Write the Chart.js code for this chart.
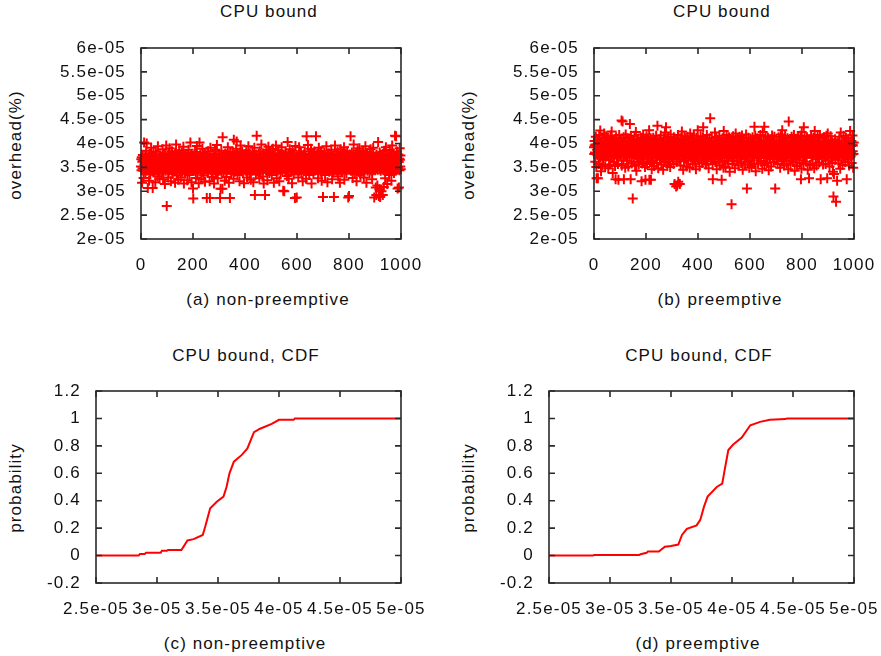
<!DOCTYPE html>
<html><head><meta charset="utf-8">
<script src="https://cdn.jsdelivr.net/npm/chart.js@4.4.1/dist/chart.umd.min.js"></script>
<style>
html,body{margin:0;padding:0;background:#fff;}
body{width:881px;height:656px;position:relative;overflow:hidden;font-family:"Liberation Sans",Arial,sans-serif;}
canvas{position:absolute;}
.t{position:absolute;font-size:17px;line-height:17px;letter-spacing:1.1px;color:#111;white-space:nowrap;transform:translate(-50%,-50%);}
.r{transform:translate(-50%,-50%) rotate(-90deg);}
</style>
</head><body>
<div class="t" style="left:269px;top:11px">CPU bound</div>
<div class="t" style="left:722px;top:11px">CPU bound</div>
<div class="t" style="left:268px;top:299px">(a) non-preemptive</div>
<div class="t" style="left:720px;top:299px">(b) preemptive</div>
<div class="t r" style="left:15px;top:145px">overhead(%)</div>
<div class="t r" style="left:468px;top:145px">overhead(%)</div>
<div class="t" style="left:246px;top:355px">CPU bound, CDF</div>
<div class="t" style="left:699px;top:355px">CPU bound, CDF</div>
<div class="t" style="left:245px;top:643px">(c) non-preemptive</div>
<div class="t" style="left:698px;top:643px">(d) preemptive</div>
<div class="t r" style="left:15px;top:488px">probability</div>
<div class="t r" style="left:468px;top:488px">probability</div>
<canvas id="ca" width="440" height="330" style="left:0;top:0"></canvas>
<canvas id="cb" width="441" height="330" style="left:440px;top:0"></canvas>
<canvas id="cc" width="440" height="326" style="left:0;top:330px"></canvas>
<canvas id="cd" width="441" height="326" style="left:440px;top:330px"></canvas>
<script>
// overhead values in units of 1e-07 (e.g. 362 = 3.62e-05), one per run 0..999
const overheadNonPreempt = [
352,367,344,371,318,362,348,376,365,343,328,369,402,356,345,363,374,339,347,366,385,358,400,346,364,
361,307,349,372,344,366,322,357,378,346,363,335,368,343,391,361,347,374,353,365,307,342,369,381,345,
364,341,372,355,347,319,368,383,344,362,377,349,366,331,345,394,361,352,370,343,367,326,348,375,363,
346,371,362,338,357,373,344,366,388,349,325,364,342,376,360,347,369,315,355,378,343,365,396,348,269,
363,345,374,352,367,329,341,379,362,348,390,366,344,357,372,321,364,346,369,384,343,361,336,375,349,
368,342,356,373,347,365,318,380,344,362,398,349,371,333,366,345,359,377,324,363,347,370,386,343,364,
345,367,374,329,353,362,348,381,366,341,370,357,344,393,364,316,375,349,368,337,346,361,378,343,366,
371,348,364,323,359,376,345,367,387,342,361,334,373,349,366,402,347,363,378,319,355,344,369,361,346,
306,285,367,344,375,358,346,368,382,343,362,328,371,347,365,395,349,338,374,361,345,366,317,352,369,
402,346,363,377,343,359,368,325,348,372,364,389,341,357,366,333,375,347,362,344,379,320,365,349,370,
347,364,373,286,345,361,338,368,384,343,376,357,366,349,321,286,363,391,344,371,358,346,367,330,362,
369,343,356,378,347,365,316,372,361,345,387,349,366,335,374,342,363,397,346,368,327,359,375,344,364,
352,367,344,376,286,363,305,347,369,385,341,365,372,305,413,348,362,339,374,357,345,368,322,361,379,
346,364,371,330,358,343,377,366,349,392,361,345,373,318,367,348,362,286,381,344,369,355,337,374,363,
371,347,365,383,344,362,326,408,368,349,376,341,364,357,372,345,389,361,404,343,367,334,378,350,366,
345,368,374,361,321,347,379,363,396,344,370,356,342,366,383,348,362,338,375,346,367,317,359,373,364,
362,377,343,368,352,386,346,365,329,374,361,344,369,394,348,363,378,336,357,371,345,366,324,349,375,
367,343,372,359,381,346,364,319,376,361,348,391,368,292,345,373,362,335,377,349,416,366,342,370,357,
344,369,363,378,347,327,365,384,342,372,356,366,349,398,361,345,374,331,368,343,379,362,316,347,371,
363,348,292,375,366,344,359,387,371,342,364,323,377,349,368,393,346,361,373,338,365,345,382,354,369,
347,372,361,334,376,345,368,389,352,343,366,318,374,362,348,379,364,342,370,396,346,367,327,358,373,
366,343,375,362,386,347,369,321,357,374,345,364,339,378,361,348,392,368,344,372,363,349,301,366,376,
361,300,345,373,366,348,381,343,369,356,375,332,364,347,403,371,362,344,326,377,365,349,388,358,368,
374,346,363,379,342,368,317,361,385,347,372,364,335,349,377,366,344,286,370,395,362,346,373,358,287,
348,367,373,344,361,329,376,365,392,343,369,357,346,374,362,381,345,338,368,349,371,363,321,366,345,
369,342,377,363,347,384,366,358,373,344,326,362,415,348,370,345,365,397,352,376,343,367,334,361,378,
345,364,371,348,389,362,316,375,344,367,360,349,378,336,365,346,372,383,343,363,355,369,347,415,374,
362,347,368,379,344,373,327,365,349,391,361,345,376,358,366,341,370,384,348,363,322,377,346,367,359,
288,366,374,345,362,381,348,369,334,357,373,343,364,394,347,370,361,319,376,345,367,352,379,364,341,
371,346,365,358,378,343,367,387,349,362,325,374,345,366,339,361,348,288,373,364,344,396,369,357,346,
365,377,343,368,361,347,383,372,331,349,364,375,344,356,370,318,366,346,388,363,342,374,360,348,367,
343,369,376,362,347,365,392,324,371,345,358,378,366,344,363,337,373,348,384,361,346,368,287,375,352,
290,364,346,377,362,348,415,369,343,372,357,381,345,366,328,374,361,347,398,363,344,370,336,365,376,
361,347,374,365,321,378,344,368,386,352,363,345,373,341,367,390,349,362,376,333,366,346,371,358,343,
368,375,346,362,383,344,370,329,364,349,377,361,345,394,367,356,373,318,348,365,380,343,369,361,347,
374,362,346,369,338,377,364,345,388,371,352,366,343,375,325,361,348,368,391,344,363,372,287,357,346,
366,344,372,308,361,292,377,347,365,312,369,345,403,358,374,290,363,304,381,346,288,368,343,376,361,
300,365,347,373,362,292,378,344,368,309,385,361,346,371,327,364,349,392,356,375,343,367,315,362,372,
345,369,378,361,334,366,348,387,372,343,363,357,376,322,365,346,396,370,344,361,379,349,367,338,374,
362,347,416,374,366,343,415,369,358,383,345,372,306,364,349,377,361,308,368,344,390,366,352,375,346
];
const overheadPreempt = [
392,378,405,396,381,362,398,414,379,351,327,395,387,376,399,327,409,380,357,397,418,378,394,370,427,
396,379,342,401,388,377,397,355,412,380,395,366,378,398,421,376,393,406,352,381,396,373,415,389,397,
380,398,411,376,395,348,387,399,365,378,403,394,356,381,417,397,372,379,425,393,382,396,338,408,377,
395,378,407,361,397,383,353,380,325,398,413,377,394,369,396,381,402,357,379,324,397,390,418,378,396,
381,396,372,409,378,397,448,354,388,399,446,379,394,365,413,325,398,377,403,381,349,395,419,376,392,
397,380,364,411,395,378,399,352,386,405,377,396,371,441,393,379,325,416,397,381,358,394,378,403,285,
378,395,407,362,397,380,416,391,354,396,376,424,398,343,381,394,369,410,377,397,385,399,356,379,402,
396,377,404,368,394,381,412,397,321,379,358,398,388,377,419,395,363,380,399,407,376,351,396,324,383,
393,378,415,396,357,381,399,368,409,377,395,389,428,324,398,379,361,394,411,324,380,397,346,376,403,
378,397,364,412,395,380,353,398,386,377,406,393,371,379,416,396,359,381,399,437,376,394,348,378,402,
395,380,409,366,397,378,388,417,396,356,379,398,374,403,393,381,345,397,411,377,361,396,386,423,379,
398,379,434,367,395,381,407,354,396,378,414,389,397,363,380,401,376,394,351,399,419,378,386,396,372,
381,396,404,369,378,397,357,413,393,380,315,398,387,377,409,395,310,379,362,399,312,396,376,418,320,
395,378,401,366,397,315,380,411,354,398,386,377,394,425,372,379,396,406,345,381,397,363,378,415,393,
379,398,368,409,395,380,352,396,388,377,414,399,364,381,394,403,376,397,349,379,421,395,386,371,398,
396,377,410,383,395,357,380,398,369,417,394,378,404,391,362,397,379,346,396,412,381,374,399,388,428,
378,397,365,406,394,380,352,399,387,377,415,395,371,379,398,402,359,381,396,413,434,378,393,366,397,
381,396,408,374,398,377,356,395,386,418,379,397,363,380,404,394,348,378,396,411,382,399,453,370,395,
379,398,367,412,394,381,357,325,396,388,378,405,397,372,380,423,395,361,378,399,414,384,346,396,377,
397,380,407,366,395,378,389,416,398,354,379,396,373,403,394,381,324,399,362,378,411,396,386,349,426,
395,378,364,409,397,381,352,398,387,377,418,394,369,380,396,405,358,379,399,413,376,392,341,397,383,
380,396,407,372,273,394,378,357,398,388,415,379,397,364,381,403,395,348,377,399,421,386,396,369,378,
397,379,410,363,395,381,354,398,389,377,414,396,370,380,394,406,359,378,397,417,382,399,345,376,393,
378,395,404,367,398,380,356,396,387,379,419,397,374,306,394,402,361,381,399,412,377,393,349,396,385,
396,379,408,365,394,381,353,398,388,377,413,395,371,380,397,404,357,435,378,399,416,384,342,396,379,
381,397,369,411,395,378,358,399,386,380,406,394,373,379,396,418,362,377,398,403,389,395,347,378,424,
395,380,407,364,397,435,355,398,387,378,415,396,370,381,394,402,359,379,399,412,376,393,344,397,384,
378,396,368,409,394,381,352,398,389,377,417,395,374,380,397,405,361,378,399,414,383,396,306,376,393,
397,379,404,366,395,380,357,398,386,378,413,394,371,381,396,407,349,377,399,419,385,395,363,379,428,
380,396,409,367,397,378,354,399,388,379,416,395,372,381,394,403,358,378,398,411,384,396,346,377,446,
395,379,406,364,397,381,356,398,387,377,414,394,369,380,396,402,361,379,399,418,383,393,343,397,376,
378,397,366,410,395,380,353,398,389,378,412,396,373,381,394,405,359,377,399,416,385,325,396,347,424,
396,380,408,365,394,379,357,434,388,377,415,397,370,381,395,403,362,378,398,413,384,396,345,379,392,
381,395,327,409,397,378,355,399,387,380,417,394,372,379,396,406,358,377,398,412,383,395,348,396,426,
395,379,407,367,398,381,354,396,388,378,414,397,371,380,394,404,360,379,399,418,385,393,325,377,396,
378,396,368,411,395,380,356,398,386,379,413,394,373,381,397,402,357,378,399,416,384,396,327,376,421,
397,381,405,364,394,378,352,399,387,380,415,395,370,379,396,407,359,377,398,341,383,289,396,336,375,
380,396,409,366,397,379,278,398,388,377,322,394,372,381,395,403,358,378,399,414,385,396,347,379,423,
395,378,406,365,398,381,355,396,389,377,416,394,371,380,397,404,361,378,399,412,383,395,325,376,393,
378,397,367,410,394,380,354,398,387,379,426,396,373,381,395,405,359,377,398,417,384,396,349,378,402
];
// CDF curves: overhead (in units of 1e-05) and cumulative probability
const cdfNonPreemptX = [2.5,2.85,2.86,2.90,2.91,3.03,3.04,3.08,3.09,3.20,3.25,3.30,3.375,3.395,3.436,3.49,3.545,3.57,3.594,3.63,3.695,3.74,3.795,3.845,3.94,4.00,4.12,4.13,5.0];
const cdfNonPreemptY = [0,0,0.012,0.012,0.02,0.02,0.035,0.035,0.04,0.04,0.11,0.12,0.15,0.21,0.345,0.393,0.43,0.50,0.60,0.685,0.734,0.78,0.90,0.925,0.96,0.99,0.99,1.0,1.0];
const cdfPreemptX = [2.5,2.86,2.87,3.24,3.25,3.30,3.31,3.40,3.45,3.50,3.56,3.59,3.63,3.71,3.74,3.77,3.80,3.875,3.92,3.94,3.97,4.01,4.08,4.15,4.23,4.31,4.44,4.45,5.0];
const cdfPreemptY = [0,0,0.005,0.005,0.01,0.02,0.03,0.03,0.065,0.07,0.08,0.15,0.195,0.22,0.26,0.355,0.43,0.50,0.525,0.625,0.77,0.81,0.86,0.95,0.975,0.99,0.995,1.0,1.0];

const runTicks = [0,200,400,600,800,1000];
const overheadTickVals = [2e-5,2.5e-5,3e-5,3.5e-5,4e-5,4.5e-5,5e-5,5.5e-5,6e-5];
const overheadTickLabels = ['2e-05','2.5e-05','3e-05','3.5e-05','4e-05','4.5e-05','5e-05','5.5e-05','6e-05'];
const cdfXTickVals = [2.5e-5,3e-5,3.5e-5,4e-5,4.5e-5,5e-5];
const cdfXTickLabels = ['2.5e-05','3e-05','3.5e-05','4e-05','4.5e-05','5e-05'];
const probTickVals = [-0.2,0,0.2,0.4,0.6,0.8,1,1.2];
const probTickLabels = ['-0.2','0','0.2','0.4','0.6','0.8','1','1.2'];

const RED = '#ff0000';
const TXT = '#111';
const FRAME = '#2a2a2a';
const LS = '1.2px';
const FONT = {family:'"Liberation Sans", Arial, sans-serif', size:17};

const framePlugin = {
  id:'frame',
  beforeUpdate(chart){ try{ chart.ctx.letterSpacing = LS; }catch(e){} },
  beforeDraw(chart){ try{ chart.ctx.letterSpacing = LS; }catch(e){} },
  afterDraw(chart){
    const {ctx, chartArea:a, scales:{x,y}} = chart;
    const TL = 6;
    ctx.save();
    ctx.strokeStyle = FRAME; ctx.lineWidth = 1.6;
    ctx.strokeRect(a.left, a.top, a.right-a.left, a.bottom-a.top);
    ctx.beginPath();
    x.ticks.forEach(t=>{ const p = x.getPixelForValue(t.value);
      ctx.moveTo(p,a.bottom); ctx.lineTo(p,a.bottom-TL); ctx.moveTo(p,a.top); ctx.lineTo(p,a.top+TL); });
    y.ticks.forEach(t=>{ const p = y.getPixelForValue(t.value);
      ctx.moveTo(a.left,p); ctx.lineTo(a.left+TL,p); ctx.moveTo(a.right,p); ctx.lineTo(a.right-TL,p); });
    ctx.stroke();
    ctx.restore();
  }
};

function axis(min,max,vals,labels,fitW,fitH,pad){
  return {
    type:'linear', min, max,
    grid:{display:false, drawTicks:false},
    border:{display:false},
    afterBuildTicks: s => { s.ticks = vals.map(v=>({value:v})); },
    afterFit: s => {
      if(fitW!=null) s.width = fitW;
      if(fitH!=null) s.height = fitH;
      s.paddingLeft = 0; s.paddingRight = 0; s.paddingTop = 0; s.paddingBottom = 0;
    },
    ticks:{autoSkip:false, maxRotation:0, minRotation:0, padding:pad, color:TXT, font:FONT,
      callback:(v,i)=>labels[i]}
  };
}

function makeChart(id, datasets, xs, ys, padding){
  return new Chart(document.getElementById(id), {
    type:'scatter',
    data:{datasets},
    options:{
      responsive:false, animation:false, devicePixelRatio:1,
      layout:{padding},
      plugins:{legend:{display:false}, tooltip:{enabled:false}, title:{display:false}},
      events:[],
      scales:{x:xs, y:ys}
    },
    plugins:[framePlugin]
  });
}

function scatterSet(vals){
  return {
    data: vals.map((v,i)=>({x:i, y:v*1e-7})),
    pointStyle:'cross', pointRadius:5, borderWidth:2,
    borderColor:RED, backgroundColor:RED, clip:false
  };
}
function cdfSet(xv,yv){
  return {
    data: xv.map((v,i)=>({x:v*1e-5, y:yv[i]})),
    showLine:true, pointRadius:0, borderWidth:2, borderColor:RED, tension:0, fill:false
  };
}

makeChart('ca',[scatterSet(overheadNonPreempt)],
  axis(0,1000,runTicks,runTicks.map(String),null,91,16),
  axis(2e-5,6e-5,overheadTickVals,overheadTickLabels,141,null,15),
  {top:48,right:39,left:0,bottom:0});
makeChart('cb',[scatterSet(overheadPreempt)],
  axis(0,1000,runTicks,runTicks.map(String),null,91,16),
  axis(2e-5,6e-5,overheadTickVals,overheadTickLabels,154,null,15),
  {top:48,right:27,left:0,bottom:0});
makeChart('cc',[cdfSet(cdfNonPreemptX,cdfNonPreemptY)],
  axis(2.5e-5,5e-5,cdfXTickVals,cdfXTickLabels,null,73,16),
  axis(-0.2,1.2,probTickVals,probTickLabels,96,null,15),
  {top:61,right:39,left:0,bottom:0});
makeChart('cd',[cdfSet(cdfPreemptX,cdfPreemptY)],
  axis(2.5e-5,5e-5,cdfXTickVals,cdfXTickLabels,null,73,16),
  axis(-0.2,1.2,probTickVals,probTickLabels,109,null,15),
  {top:61,right:27,left:0,bottom:0});
</script>
</body></html>
